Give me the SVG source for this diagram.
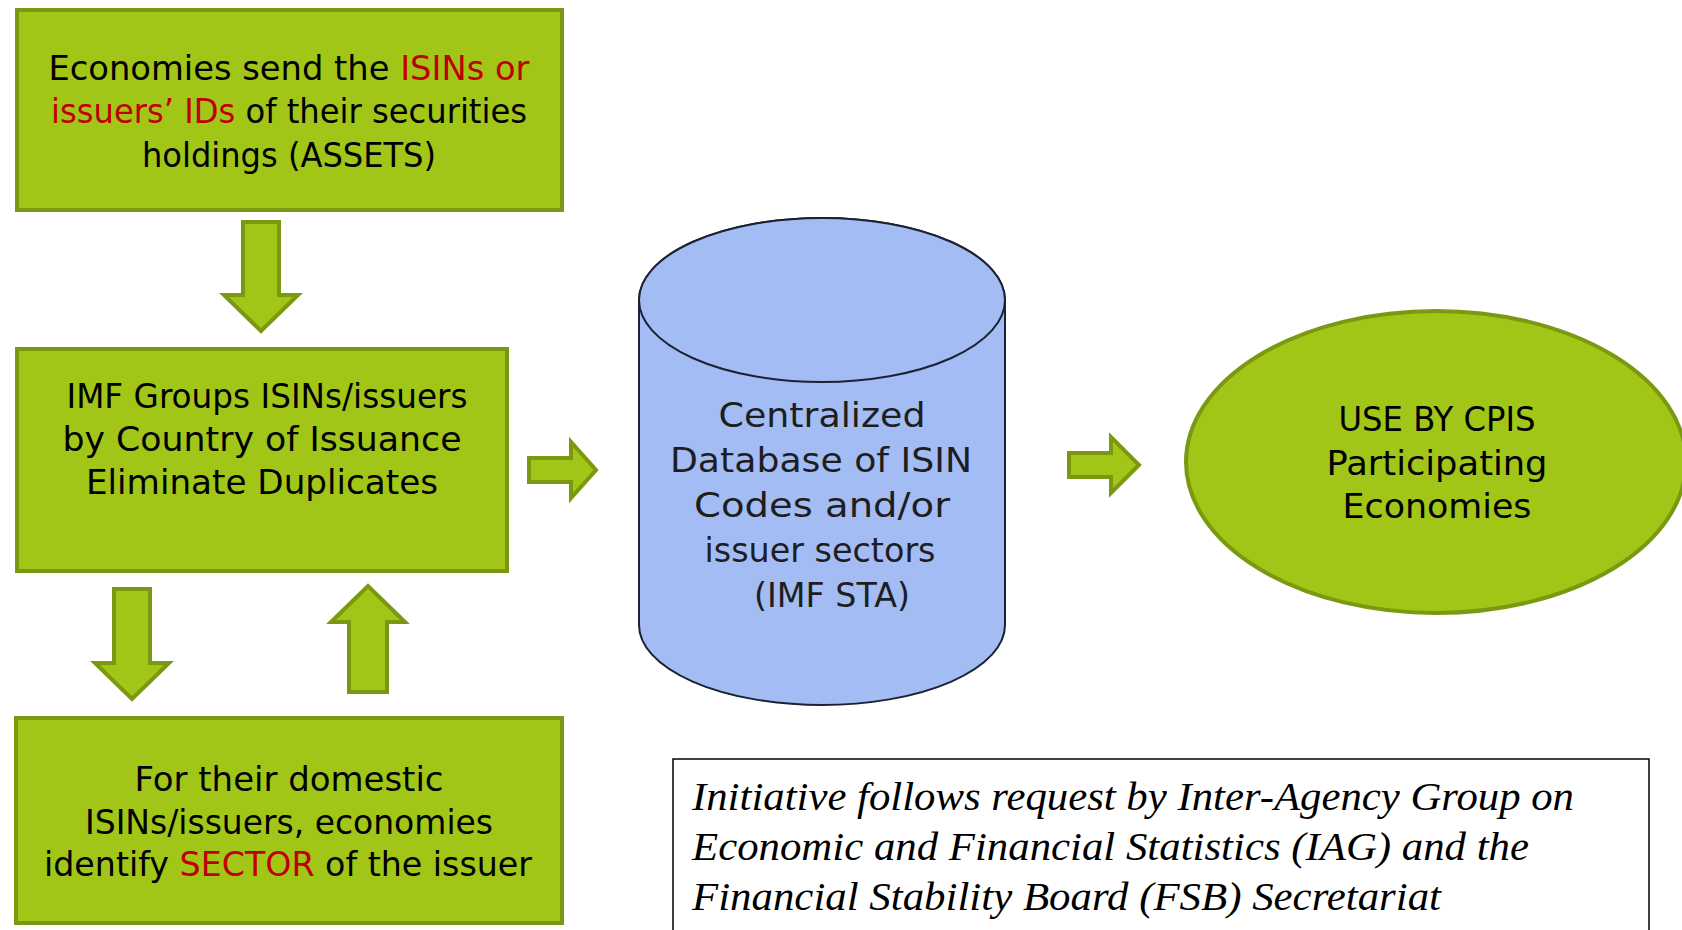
<svg xmlns="http://www.w3.org/2000/svg" width="1682" height="930" viewBox="0 0 1682 930">
<style>
.box{fill:#a2c617;stroke:#7a9810;stroke-width:4}
.arr{fill:#a2c617;stroke:#7a9810;stroke-width:4;stroke-linejoin:miter}
.t{font-family:"DejaVu Sans","Liberation Sans",sans-serif;font-size:33px;fill:#000;text-anchor:middle}
.red{fill:#c00000}
.db{fill:#a4bcf4;stroke:#1c2233;stroke-width:2}
.dbt{font-family:"DejaVu Sans","Liberation Sans",sans-serif;font-size:33px;fill:#1e1e1e;text-anchor:middle}
.note{font-family:"Liberation Serif","Times New Roman",serif;font-style:italic;font-size:40px;fill:#000}
</style>
<rect width="1682" height="930" fill="#fff"/>
<g id="box-assets">
<rect class="box" x="17" y="10" width="545" height="200"/>
<text class="t" x="289" y="80" textLength="481" lengthAdjust="spacingAndGlyphs">Economies send the <tspan class="red">ISINs or</tspan></text>
<text class="t" x="289" y="123" textLength="476" lengthAdjust="spacingAndGlyphs"><tspan class="red">issuers’ IDs</tspan> of their securities</text>
<text class="t" x="289" y="167" textLength="294" lengthAdjust="spacingAndGlyphs">holdings (ASSETS)</text>
</g>
<g id="box-imf">
<rect class="box" x="17" y="349" width="490" height="222"/>
<text class="t" x="267" y="408" textLength="401" lengthAdjust="spacingAndGlyphs">IMF Groups ISINs/issuers</text>
<text class="t" x="262" y="451" textLength="399" lengthAdjust="spacingAndGlyphs">by Country of Issuance</text>
<text class="t" x="262" y="494" textLength="352" lengthAdjust="spacingAndGlyphs">Eliminate Duplicates</text>
</g>
<g id="box-sector">
<rect class="box" x="16" y="718" width="546" height="205"/>
<text class="t" x="289" y="791" textLength="309" lengthAdjust="spacingAndGlyphs">For their domestic</text>
<text class="t" x="289" y="834" textLength="408" lengthAdjust="spacingAndGlyphs">ISINs/issuers, economies</text>
<text class="t" x="288" y="876" textLength="488" lengthAdjust="spacingAndGlyphs">identify <tspan class="red">SECTOR</tspan> of the issuer</text>
</g>
<g id="database">
<path class="db" d="M639,300 A183,82 0 0 1 1005,300 L1005,625 A183,80 0 0 1 639,625 Z"/>
<ellipse class="db" cx="822" cy="300" rx="183" ry="82"/>
<text class="dbt" x="822" y="427" textLength="207" lengthAdjust="spacingAndGlyphs">Centralized</text>
<text class="dbt" x="821" y="472" textLength="302" lengthAdjust="spacingAndGlyphs">Database of ISIN</text>
<text class="dbt" x="822" y="517" textLength="256" lengthAdjust="spacingAndGlyphs">Codes and/or</text>
<text class="dbt" x="820" y="562" textLength="231" lengthAdjust="spacingAndGlyphs">issuer sectors</text>
<text class="dbt" x="832" y="607" textLength="156" lengthAdjust="spacingAndGlyphs">(IMF STA)</text>
</g>
<g id="use-cpis">
<ellipse class="box" cx="1436" cy="462" rx="250" ry="151"/>
<text class="t" x="1437" y="431" textLength="197" lengthAdjust="spacingAndGlyphs">USE BY CPIS</text>
<text class="t" x="1437" y="475" textLength="221" lengthAdjust="spacingAndGlyphs">Participating</text>
<text class="t" x="1437" y="518" textLength="189" lengthAdjust="spacingAndGlyphs">Economies</text>
</g>
<g id="note">
<rect x="673" y="759" width="976" height="185" fill="#fff" stroke="#000" stroke-width="1.5"/>
<text class="note" x="692" y="810" textLength="882" lengthAdjust="spacingAndGlyphs">Initiative follows request by Inter-Agency Group on</text>
<text class="note" x="692" y="860" textLength="837" lengthAdjust="spacingAndGlyphs">Economic and Financial Statistics (IAG) and the</text>
<text class="note" x="692" y="910" textLength="749" lengthAdjust="spacingAndGlyphs">Financial Stability Board (FSB) Secretariat</text>
</g>
<g id="connectors">
<polygon class="arr" points="243,222 279,222 279,295 298,295 261,331 224,295 243,295"/>
<polygon class="arr" points="114,589 150,589 150,663 169,663 132,699 95,663 114,663"/>
<polygon class="arr" points="349,692 387,692 387,622 405,622 368,586 331,622 349,622"/>
<polygon class="arr" points="529,458 571,458 571,442 596,470 571,498 571,482 529,482"/>
<polygon class="arr" points="1069,453 1111,453 1111,437 1139,465 1111,493 1111,477 1069,477"/>
</g>
</svg>
